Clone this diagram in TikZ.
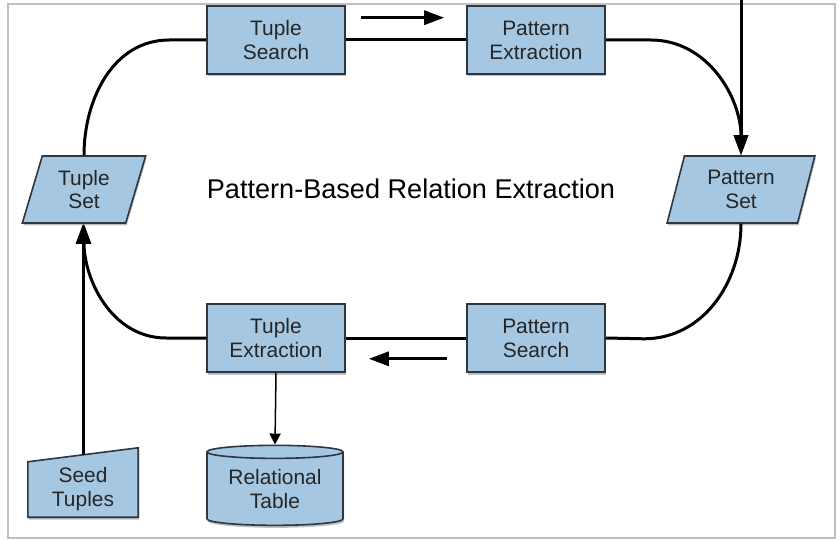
\documentclass[tikz,border=0pt]{standalone}
\usepackage{fontspec}
\setmainfont{Liberation Sans}
\usetikzlibrary{shapes.geometric}
\usetikzlibrary{arrows.meta}
\usetikzlibrary{shadows}
\usetikzlibrary{calc}
\usetikzlibrary{backgrounds}
\definecolor{boxfill}{RGB}{166,199,226}
\definecolor{boxline}{RGB}{45,55,65}

\begin{document}
\begin{tikzpicture}[x=1bp,y=1bp,
        box/.style={draw=boxline, line width=1.6bp, fill=boxfill, align=center, text=black!85,
            font=\fontsize{21}{24}\selectfont,
            drop shadow={shadow xshift=1bp, shadow yshift=-2.5bp, opacity=0.5}},
        task/.style={box, rectangle, minimum width=138bp, minimum height=68bp, inner sep=0pt},
        store/.style={box, trapezium, trapezium stretches=true, minimum height=67bp, inner sep=0pt},
        link/.style={line width=3bp},
        flow/.style={line width=3bp, -{Triangle[length=20bp,width=14bp]}},
        thinflow/.style={line width=1.5bp, -{Triangle[length=11bp,width=11bp]}}]
        \useasboundingbox (0,0) rectangle (840,-541);
        \draw[gray!50, line width=1.2bp] (8,-4) rectangle (835,-538);

        \node (TS) at (276,-40) [task] {Tuple\\Search};
        \node (PE) at (536,-40) [task] {Pattern\\Extraction};
        \node (PS) at (536,-338) [task] {Pattern\\Search};
        \node (TE) at (276,-338) [task] {Tuple\\Extraction};
        \node (TSet) at (84,-189.5) [store, minimum width=124bp, trapezium left angle=72.6, trapezium right angle=107.4] {Tuple\\Set};
        \node (PSet) at (741,-189.5) [store, minimum width=148bp, trapezium left angle=75, trapezium right angle=105] {Pattern\\Set};
        \node (Table) at (275,-489) [box, cylinder, shape border rotate=90, aspect=0.14, minimum width=136bp, minimum height=80bp, inner sep=0pt] {Relational\\Table};
        \node (Seed) at (83,-489.5) [minimum width=110bp, minimum height=55bp, inner sep=0pt, align=center, text=black!85, font=\fontsize{21}{24}\selectfont] {Seed\\Tuples};
        \node (X) at (411,-199) [anchor=base, font=\fontsize{27.2}{33}\selectfont] {Pattern-Based Relation Extraction};

        \begin{scope}[on background layer]
            \draw[box] (Seed.south west) -- (Seed.north west) -- ($(Seed.north east)+(0,14)$) -- (Seed.south east) -- cycle;
        \end{scope}

        \coordinate (A) at ($(TS.north east)+(15,-12.5)$);
        \coordinate (A2) at ($(PE.north west)+(-22,-12.5)$);
        \coordinate (B) at ($(PS.south west)+(-19,14)$);
        \coordinate (B2) at ($(TE.south east)+(23,14)$);
        \coordinate (C) at (741,0);
        \coordinate (D) at ($(Seed.north)+(0,7)$);

        \draw[link] (TS.east) -- (PE.west);
        \draw[link] (PS.west) -- (TE.east);
        \draw[link] (TS.west) -- ++(-37,0) to[out=180,in=90] (TSet.center |- TSet.north);
        \draw[flow] (PE.east) -- ++(45,0) to[out=0,in=90] (PSet.center |- PSet.north);
        \draw[link] (PSet.center |- PSet.south) to[out=-90,in=0] ++(-97,-115) -- (PS.east);
        \draw[flow] (TE.west) -- ++(-40,0) to[out=180,in=-90] (TSet.center |- TSet.south);
        \draw[flow] (C) -- (PSet.center |- PSet.north);
        \draw[flow] (D) -- (D |- TSet.south);
        \draw[thinflow] (TE.south) -- (Table.north);
        \draw[flow] (A) -- (A2);
        \draw[flow] (B) -- (B2);
    \end{tikzpicture}
\end{document}
